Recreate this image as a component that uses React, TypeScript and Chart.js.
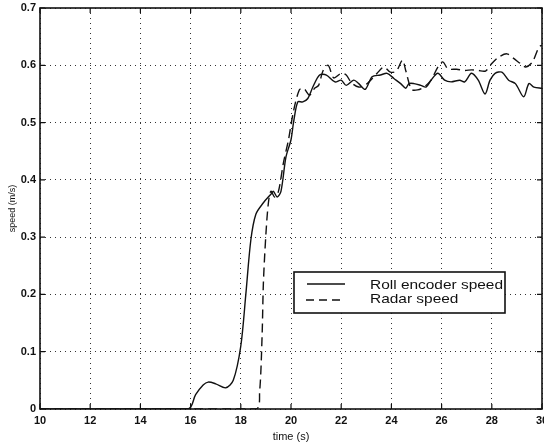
import React, { useEffect, useRef } from "react";
import { Chart, registerables } from "chart.js";

Chart.register(...registerables);

// Roll encoder speed (solid line)
const rollTime = [
  10, 15.9, 16.2, 16.5, 16.7, 17.0, 17.4, 17.7, 18.0, 18.2, 18.4, 18.6, 18.9, 19.2, 19.3,
  19.45, 19.6, 19.8, 20.0, 20.1, 20.27, 20.47, 20.67, 20.87, 21.14, 21.41, 21.75, 22.0, 22.2,
  22.5, 22.7, 22.96, 23.23, 23.56, 23.83, 24.1, 24.37, 24.57, 24.7, 24.9, 25.17, 25.38, 25.58,
  25.85, 26.12, 26.38, 26.72, 26.92, 27.19, 27.46, 27.73, 27.93, 28.13, 28.4, 28.67, 28.94,
  29.27, 29.48, 29.68, 30,
];
const rollSpeed = [
  0, 0, 0.025, 0.042, 0.047, 0.044, 0.037, 0.05, 0.11, 0.2, 0.295, 0.34, 0.36, 0.375, 0.38,
  0.37, 0.38, 0.44, 0.47, 0.5, 0.536, 0.536, 0.542, 0.562, 0.583, 0.583, 0.571, 0.574, 0.565,
  0.574, 0.568, 0.558, 0.58, 0.583, 0.586, 0.577, 0.568, 0.56, 0.568, 0.568, 0.565, 0.562, 0.574,
  0.586, 0.574, 0.571, 0.574, 0.571, 0.586, 0.574, 0.55, 0.574, 0.586, 0.588, 0.574, 0.568,
  0.545, 0.568, 0.562, 0.56,
];

// Radar speed (dashed line)
const radarTime = [
  10, 18.6, 18.75, 18.85, 18.9, 19.0, 19.1, 19.2, 19.35, 19.5, 19.7, 19.9, 20.1, 20.33, 20.5,
  20.74, 20.94, 21.1, 21.28, 21.48, 21.7, 22.0, 22.2, 22.4, 22.7, 23.0, 23.43, 23.7, 23.96, 24.2,
  24.44, 24.57, 24.8, 25.04, 25.3, 25.58, 25.85, 26.05, 26.25, 26.6, 26.92, 27.2, 27.46, 27.75,
  28.0, 28.27, 28.6, 28.87, 29.14, 29.35, 29.62, 29.88, 30,
];
const radarSpeed = [
  0, 0, 0.03, 0.13, 0.22, 0.305, 0.36, 0.38, 0.37, 0.38, 0.43, 0.47, 0.52, 0.557, 0.56,
  0.548, 0.56, 0.565, 0.591, 0.6, 0.578, 0.586, 0.583, 0.57, 0.562, 0.567, 0.586, 0.597, 0.588,
  0.59, 0.609, 0.591, 0.558, 0.557, 0.562, 0.574, 0.597, 0.606, 0.594, 0.593, 0.591, 0.592, 0.591,
  0.59, 0.603, 0.614, 0.62, 0.612, 0.603, 0.597, 0.606, 0.632, 0.635,
];

const xTicks = [10, 12, 14, 16, 18, 20, 22, 24, 26, 28, 30];
const yTicks = [0, 0.1, 0.2, 0.3, 0.4, 0.5, 0.6, 0.7];
const seriesLabels = ["Roll encoder speed", "Radar speed"];
const xTitle = "time (s)";
const yTitle = "speed (m/s)";

const FONT = "'Liberation Sans', Arial, sans-serif";

const framePlugin = {
  id: "frame",
  afterDatasetsDraw(chart: any) {
    const { ctx, chartArea: a, scales } = chart;
    ctx.save();
    ctx.strokeStyle = "#111";
    ctx.lineWidth = 1.2;
    const tl = 5;
    ctx.beginPath();
    xTicks.forEach((v) => {
      const x = scales.x.getPixelForValue(v);
      ctx.moveTo(x, a.bottom);
      ctx.lineTo(x, a.bottom - tl);
      ctx.moveTo(x, a.top);
      ctx.lineTo(x, a.top + tl);
    });
    yTicks.forEach((v) => {
      const y = scales.y.getPixelForValue(v);
      ctx.moveTo(a.left, y);
      ctx.lineTo(a.left + tl, y);
      ctx.moveTo(a.right, y);
      ctx.lineTo(a.right - tl, y);
    });
    ctx.stroke();
    ctx.lineWidth = 1.6;
    ctx.strokeRect(a.left, a.top, a.right - a.left, a.bottom - a.top);
    ctx.restore();
  },
  afterDraw(chart: any) {
    const { ctx } = chart;
    const bx = 294, by = 272, bw = 211, bh = 41;
    ctx.save();
    ctx.fillStyle = "#fff";
    ctx.fillRect(bx, by, bw, bh);
    ctx.strokeStyle = "#111";
    ctx.lineWidth = 1.6;
    ctx.strokeRect(bx, by, bw, bh);
    // samples
    ctx.lineWidth = 1.3;
    ctx.beginPath();
    ctx.moveTo(307, 284);
    ctx.lineTo(345, 284);
    ctx.stroke();
    ctx.setLineDash([8, 5]);
    ctx.beginPath();
    ctx.moveTo(306, 300);
    ctx.lineTo(342, 300);
    ctx.stroke();
    ctx.setLineDash([]);
    ctx.fillStyle = "#111";
    ctx.font = `13px ${FONT}`;
    ctx.textBaseline = "middle";
    const w0 = ctx.measureText(seriesLabels[0]).width;
    const sx = 133 / w0;
    [285, 299].forEach((y, i) => {
      ctx.save();
      ctx.translate(370, y);
      ctx.scale(sx, 1);
      ctx.fillText(seriesLabels[i], 0, 0);
      ctx.restore();
    });
    ctx.restore();
  },
};

export default function App() {
  const ref = useRef<HTMLCanvasElement | null>(null);
  useEffect(() => {
    if (!ref.current) return;
    const chart = new Chart(ref.current, {
      type: "line",
      data: {
        datasets: [
          {
            label: seriesLabels[0],
            data: rollTime.map((t, i) => ({ x: t, y: rollSpeed[i] })),
            borderColor: "#111",
            borderWidth: 1.4,
            pointRadius: 0,
            tension: 0.3,
            fill: false,
          },
          {
            label: seriesLabels[1],
            data: radarTime.map((t, i) => ({ x: t, y: radarSpeed[i] })),
            borderColor: "#111",
            borderWidth: 1.4,
            borderDash: [9, 5],
            pointRadius: 0,
            tension: 0.3,
            fill: false,
          },
        ],
      },
      options: {
        responsive: false,
        animation: false,
        devicePixelRatio: 1,
        layout: { padding: { top: 8, right: 2, left: 0, bottom: 0 } },
        plugins: { legend: { display: false }, tooltip: { enabled: false } },
        scales: {
          x: {
            type: "linear",
            min: 10,
            max: 30,
            afterBuildTicks: (s: any) => {
              s.ticks = xTicks.map((v) => ({ value: v }));
            },
            afterFit: (s: any) => {
              s.height = 36;
              s.paddingLeft = 0;
              s.paddingRight = 0;
            },
            ticks: {
              autoSkip: false,
              maxRotation: 0,
              padding: 5,
              color: "#111",
              font: { family: FONT, size: 11, weight: "bold" },
              callback: (v: any) => String(v),
            },
            grid: { color: "#333", lineWidth: 1, drawTicks: false },
            border: { display: false, dash: [1, 4] },
            title: {
              display: true,
              text: xTitle,
              color: "#111",
              font: { family: FONT, size: 11 },
              padding: { top: 0, bottom: 1 },
            },
          },
          y: {
            type: "linear",
            min: 0,
            max: 0.7,
            afterBuildTicks: (s: any) => {
              s.ticks = yTicks.map((v) => ({ value: v }));
            },
            afterFit: (s: any) => {
              s.width = 40;
              s.paddingTop = 0;
              s.paddingBottom = 0;
            },
            ticks: {
              autoSkip: false,
              padding: 4,
              color: "#111",
              font: { family: FONT, size: 11, weight: "bold" },
              callback: (v: any) => (Number(v) === 0 ? "0" : Number(v).toFixed(1)),
            },
            grid: { color: "#333", lineWidth: 1, drawTicks: false },
            border: { display: false, dash: [1, 4] },
            title: {
              display: true,
              text: yTitle,
              color: "#111",
              font: { family: FONT, size: 9 },
              padding: { top: 7, bottom: 0 },
            },
          },
        },
      },
      plugins: [framePlugin],
    } as any);
    return () => chart.destroy();
  }, []);
  return (
    <div style={{ position: "fixed", left: 0, top: 0, width: 544, height: 445, background: "#fff" }}>
      <canvas ref={ref} width={544} height={445} style={{ width: 544, height: 445 }} />
    </div>
  );
}
